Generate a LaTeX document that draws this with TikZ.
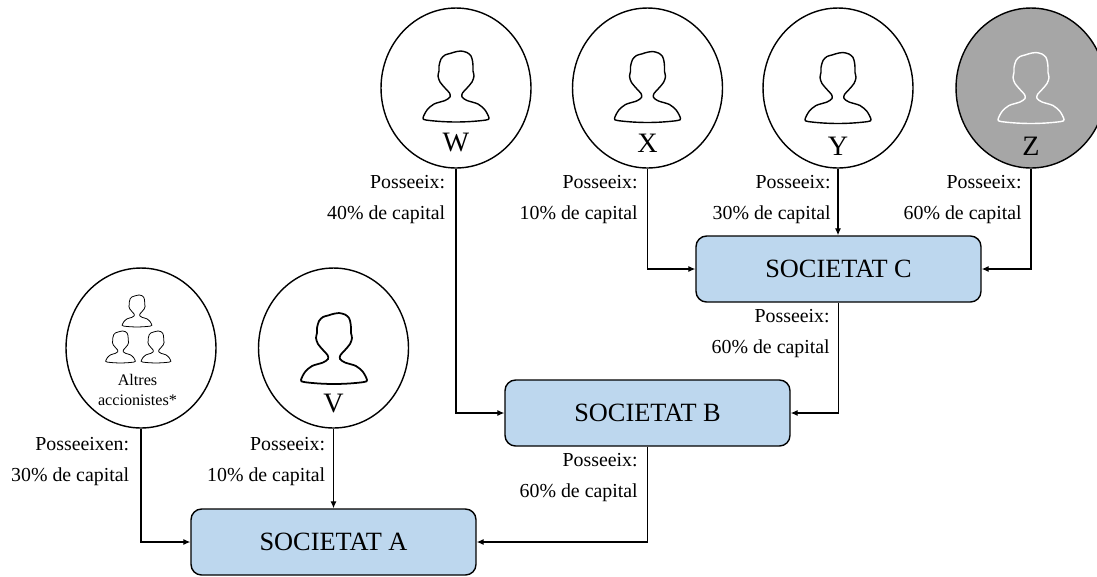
\documentclass[tikz,border=0pt]{standalone}
\usepackage{fontspec}
\setmainfont{Liberation Serif}
\usetikzlibrary{positioning,calc}
\usetikzlibrary{shapes.geometric,arrows.meta}
\tikzset{
    soci/.style={draw,ellipse,line width=.8pt,fill=white,minimum width=3cm,minimum height=3.2cm,inner sep=0pt},
    societat/.style={draw,rectangle,rounded corners=6pt,line width=.8pt,fill=boxblue,minimum width=5.7cm,minimum height=1.32cm,font=\fontsize{15}{18}\selectfont},
    lletra/.style={font=\fontsize{16}{18}\selectfont},
    part/.style={anchor=east,align=right,inner sep=0pt,font=\fontsize{11.3}{17.6}\selectfont},
    fletxa/.style={-{Latex[length=4pt,width=3.5pt]},line width=.7pt},
    persona/.pic={
        \draw[pic actions] plot[smooth cycle,tension=.5] coordinates {(1,.5) (5,0) (11,1.5) (15,5) (16.5,10) (17,15) (17,20) (18,25) (16,31) (11,37) (6.5,42) (6,46) (11,49.5) (22,53) (29,59) (33,67) (30,69) (15,70.5) (0,71) (-15,70.5) (-30,69) (-33,67) (-29,59) (-22,53) (-11,49.5) (-6,46) (-6.5,42) (-11,37) (-16,31) (-18,25) (-17,20) (-17,15) (-15,8) (-11,4) (-6,2.5) (-3,1.5)};
    }
}
\definecolor{boxblue}{HTML}{BDD7EE}
\definecolor{zgrey}{HTML}{A6A6A6}
\begin{document}
\begin{tikzpicture}[x=.02cm,y=-.02cm]
        \useasboundingbox (0,0) rectangle (1097,576);
        \node[soci] (w) at (456,88) {};
        \node[soci] (x) at (647.5,88) {};
        \node[soci] (y) at (838,88) {};
        \node[soci,fill=zgrey] (z) at (1031,88) {};
        \node[soci] (altres) at (141,348) {};
        \node[soci] (v) at (333.5,348) {};
        \node[societat] (socc) at (838.5,269) {SOCIETAT C};
        \node[societat] (socb) at (647.5,413) {SOCIETAT B};
        \node[societat] (soca) at (333.5,542) {SOCIETAT A};
        \pic[line width=.8pt] at (456,51) {persona};
        \pic[line width=.8pt] at (647.5,51.5) {persona};
        \pic[line width=.8pt] at (838,52.5) {persona};
        \pic[line width=.8pt,draw=white] at (1031,52.5) {persona};
        \pic[line width=1pt] at (334,313) {persona};
        \pic[line width=.45pt,scale=.45] at (137,295) {persona};
        \pic[line width=.45pt,scale=.45] at (120.5,331) {persona};
        \pic[line width=.45pt,scale=.45] at (156,331) {persona};
        \node[lletra] (lw) at (456,142) {W};
        \node[lletra] (lx) at (647.5,143) {X};
        \node[lletra] (ly) at (838,146) {Y};
        \node[lletra] (lz) at (1031,146) {Z};
        \node[lletra] (lv) at (333.5,403) {V};
        \node[align=center,font=\fontsize{9.2}{11.3}\selectfont] (laltres) at (137.5,390) {Altres\\accionistes*};
        \node[part] (pw) at (445.5,199.5) {Posseeix:\\40\% de capital};
        \node[part] (px) at (638,199.5) {Posseeix:\\10\% de capital};
        \node[part] (py) at (831,199.5) {Posseeix:\\30\% de capital};
        \node[part] (pz) at (1022,199.5) {Posseeix:\\60\% de capital};
        \node[part] (pc) at (830,333.5) {Posseeix:\\60\% de capital};
        \node[part] (pb) at (638,477.5) {Posseeix:\\60\% de capital};
        \node[part] (pa) at (129.5,461.5) {Posseeixen:\\30\% de capital};
        \node[part] (pv) at (325.5,461.5) {Posseeix:\\10\% de capital};
        \draw[fletxa] (w.south) |- (socb.west);
        \draw[fletxa] (x.south) |- (socc.west);
        \draw[fletxa] (y.south) -- (socc.north -| y.south);
        \draw[fletxa] (z.south) |- (socc.east);
        \draw[fletxa] (socc.south) |- (socb.east);
        \draw[fletxa] (socb.south) |- (soca.east);
        \draw[fletxa] (altres.south) |- (soca.west);
        \draw[fletxa] (v.south) -- (soca.north);
    \end{tikzpicture}
\end{document}
